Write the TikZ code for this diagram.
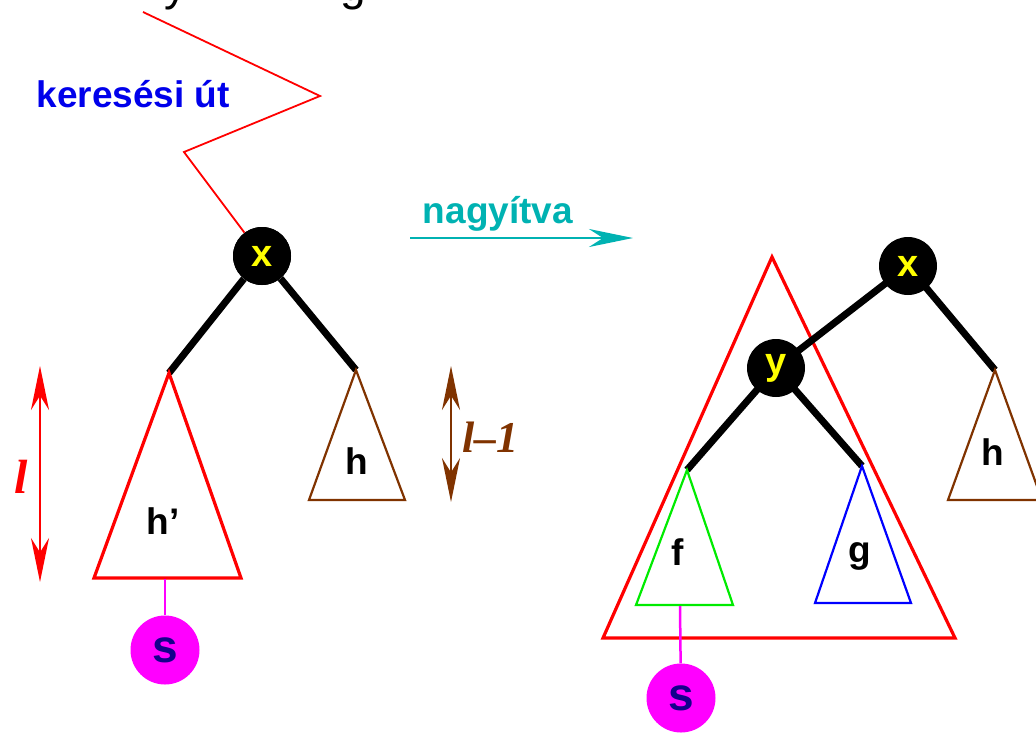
\documentclass[tikz,border=0pt]{standalone}
\usepackage{fontspec}
\setmainfont{Liberation Sans}
\newfontfamily\serifit{Liberation Serif}
\usetikzlibrary{arrows.meta}
\definecolor{brn}{RGB}{128,51,0}
\definecolor{teal2}{RGB}{0,178,178}
\definecolor{bluetxt}{RGB}{0,0,235}
\definecolor{navy2}{RGB}{20,0,140}
\definecolor{mag}{RGB}{255,0,255}
\definecolor{grn}{RGB}{0,235,0}
\definecolor{yel}{RGB}{255,255,0}
\tikzset{
  blacknode/.style={circle,fill=black,minimum size=58pt,inner sep=0pt,text=yel,font=\bfseries\fontsize{38}{38}\selectfont},
  snode/.style={circle,fill=mag,minimum size=69pt,inner sep=0pt,text=navy2,font=\bfseries\fontsize{46}{46}\selectfont},
  treeedge/.style={line width=7pt,black},
  lbl/.style={font=\bfseries\fontsize{37}{37}\selectfont,text=black},
  subtri/.style={line width=2.2pt,line join=miter},
  bigtri/.style={line width=3.2pt,line join=miter},
  dblarrow/.style={line width=2.5pt,{Stealth[length=44pt,width=18pt]}-{Stealth[length=44pt,width=18pt]}},
}
\begin{document}
\begin{tikzpicture}[x=1pt,y=-1pt]
\useasboundingbox (0,0) rectangle (1036,732);
\begin{scope}
\clip (0,0) rectangle (1036,732);
% cut-off title fragments
\node[anchor=base,font=\fontsize{46}{46}\selectfont] (t1) at (176,0) {y};
\node[anchor=base,font=\fontsize{46}{46}\selectfont] (t2) at (353,0) {g};
% ---- left tree ----
\node[blacknode] (x1) at (262,256) {x};
\coordinate (a1) at (169,373);
\coordinate (b1) at (356,370);
\draw[red,line width=1.8pt] (143,12) -- (320,96) -- (184,152) -- (x1);
\node[text=bluetxt,font=\bfseries\fontsize{37}{37}\selectfont,anchor=west] (kt) at (33,94) {keresési út};
\draw[treeedge] (x1) -- (a1);
\draw[treeedge] (x1) -- (b1);
\node[blacknode] at (262,256) {x};
\draw[red,bigtri] (a1) -- (94,578) -- (241,578) -- cycle;
\node[lbl] (hp) at (163,521) {h’};
\draw[brn,subtri] (b1) -- (309,500) -- (405,500) -- cycle;
\node[lbl] (h1) at (357,461) {h};
\coordinate (s1top) at (165,579);
\node[snode] (s1) at (165,650) {s};
\draw[mag,line width=2.5pt] (s1top) -- (s1);
% measure arrows
\coordinate (l1a) at (40,366);
\coordinate (l1b) at (40,582);
\draw[red,dblarrow] (l1a) -- (l1b);
\node[text=red,font=\serifit\bfseries\itshape\fontsize{48}{48}\selectfont] (ll) at (21,477) {l};
\coordinate (l2a) at (451,366);
\coordinate (l2b) at (451,502);
\draw[brn,dblarrow] (l2a) -- (l2b);
\node[text=brn,font=\serifit\bfseries\itshape\fontsize{44}{44}\selectfont,anchor=west] (ll2) at (459,437) {l–1};
% zoom arrow
\coordinate (za) at (410,238);
\coordinate (zb) at (633,238);
\draw[teal2,line width=2.5pt,-{Stealth[length=44pt,width=18pt,inset=14pt]}] (za) -- (zb);
\node[text=teal2,font=\bfseries\fontsize{37}{37}\selectfont] (nt) at (498,214) {nagyítva};
% ---- right tree ----
\coordinate (f0) at (687,470);
\coordinate (g0) at (862,466);
\coordinate (h0) at (995,370);
\draw[red,bigtri] (772,257) -- (603,638) -- (955,638) -- cycle;
\draw[treeedge] (908,266) -- (776,368);
\draw[treeedge] (908,266) -- (h0);
\draw[treeedge] (776,368) -- (f0);
\draw[treeedge] (776,368) -- (g0);
\node[blacknode] (x2) at (908,266) {x};
\node[blacknode] (y2) at (776,368) {y};
\draw[grn,subtri] (f0) -- (636,605) -- (733,605) -- cycle;
\node[lbl] (fl) at (678,552) {f};
\draw[blue,subtri] (g0) -- (815,603) -- (911,603) -- cycle;
\node[lbl] (gl) at (860,556) {g};
\draw[brn,subtri] (h0) -- (948,500) -- (1042,500) -- cycle;
\node[lbl] (h2) at (993,452) {h};
\coordinate (s2top) at (680,606);
\node[snode] (s2) at (681,698) {s};
\draw[mag,line width=2.5pt] (s2top) -- (s2);
\end{scope}
\end{tikzpicture}
\end{document}
